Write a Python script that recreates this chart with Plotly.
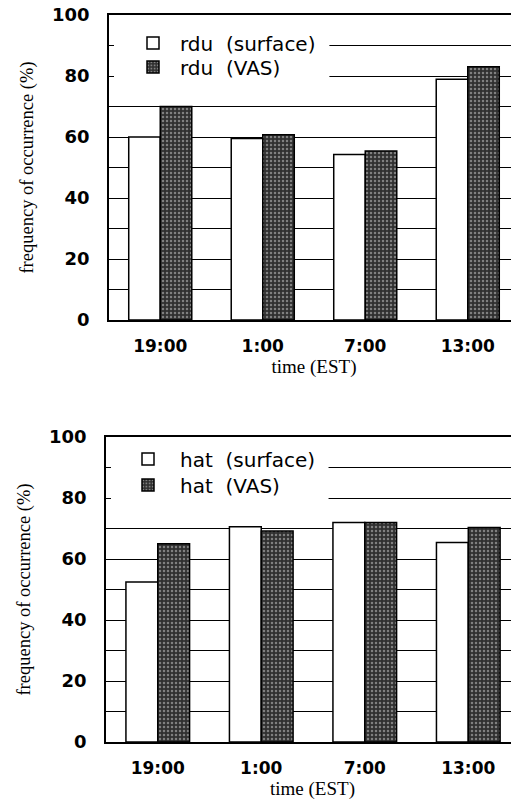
import plotly.graph_objects as go
from plotly.subplots import make_subplots

times = ["19:00", "1:00", "7:00", "13:00"]
rdu_surface = [60, 59.5, 54.3, 78.9]
rdu_vas = [70, 60.7, 55.4, 83]
hat_surface = [52.5, 70.6, 72, 65.4]
hat_vas = [65, 69.2, 72, 70.3]
yticks = [0, 20, 40, 60, 80, 100]

NBSP = "\u00a0"

# the page has an 8px body margin; the figure fills the rest of the window
W, H = 511, 792
L = 92
PW = W - L

fig = make_subplots(rows=2, cols=1)

vas_marker = dict(color="#303030", line=dict(color="black", width=1.5),
                  pattern=dict(shape=".", fgcolor="#cfcfcf", bgcolor="#303030",
                               size=4, solidity=0.3))
surf_marker = dict(color="white", line=dict(color="black", width=1.5))

fig.add_trace(go.Bar(x=times, y=rdu_surface, name=f"rdu{NBSP}{NBSP}(surface)",
                     marker=surf_marker, legend="legend"), row=1, col=1)
fig.add_trace(go.Bar(x=times, y=rdu_vas, name=f"rdu{NBSP}{NBSP}(VAS)",
                     marker=vas_marker, legend="legend2"), row=1, col=1)
fig.add_trace(go.Bar(x=times, y=hat_surface, name=f"hat{NBSP}{NBSP}(surface)",
                     marker=surf_marker, legend="legend3"), row=2, col=1)
fig.add_trace(go.Bar(x=times, y=hat_vas, name=f"hat{NBSP}{NBSP}(VAS)",
                     marker=vas_marker, legend="legend4"), row=2, col=1)

ytick_font = dict(family="DejaVu Sans", size=18, color="black", weight="bold")
xtick_font = dict(family="DejaVu Sans", size=17, color="black", weight="bold")
ytitle_font = dict(family="Liberation Serif", size=18.5, color="black")
xtitle_font = dict(family="Liberation Serif", size=19, color="black")

common_x = dict(showline=True, linecolor="black", linewidth=1.5, automargin=False,
                mirror=True, ticks="", tickfont=xtick_font, ticklabelstandoff=10,
                showgrid=False, fixedrange=True)
common_y = dict(range=[0, 100], tickvals=yticks, showline=True, linecolor="black",
                linewidth=1.5, mirror=False, ticks="inside", ticklen=5, tickcolor="black",
                tickfont=ytick_font, ticklabelstandoff=14, ticklabeloverflow="allow",
                showgrid=True, automargin=False,
                gridcolor="black", gridwidth=1, zeroline=False, fixedrange=True,
                minor=dict(dtick=10, showgrid=True, gridcolor="black", gridwidth=1,
                           ticks="inside", ticklen=5, tickcolor="black"))

fig.update_xaxes(**common_x)
fig.update_yaxes(**common_y)

# plot boxes (figure px): top x 101..511, y 7..312 ; bottom x 98..511, y 429..734
fig.update_xaxes(domain=[(101 - L) / PW, 1.0], range=[-0.5, 3.5], row=1, col=1,
                 title=dict(text="time (EST)", font=xtitle_font, standoff=4))
fig.update_xaxes(domain=[(98 - L) / PW, 1.0], range=[-0.5, 3.49], row=2, col=1,
                 title=dict(text="time (EST)", font=xtitle_font, standoff=6))
fig.update_yaxes(domain=[1 - 312 / H, 1 - 7 / H], row=1, col=1,
                 title=dict(text="frequency of occurrence (%)", font=ytitle_font, standoff=14))
fig.update_yaxes(domain=[1 - 734 / H, 1 - 429 / H], row=2, col=1,
                 title=dict(text="frequency of occurrence (%)", font=ytitle_font, standoff=14))

# white area behind the legend that hides the upper grid lines
for xr, yr in (("x", "y"), ("x2", "y2")):
    fig.add_shape(type="rect", xref=xr, yref=yr, x0=-0.5, x1=1.65, y0=75, y1=99.6,
                  fillcolor="white", line=dict(width=0), layer="between")

legend_font = dict(family="DejaVu Sans", size=20, color="black")


def leg(cx, cy, itemw):
    sym = (itemw + 10) / 2
    return dict(x=(cx - sym - L) / PW, y=1 - cy / H, xanchor="left", yanchor="middle",
                bgcolor="rgba(0,0,0,0)", font=legend_font, itemwidth=itemw)


fig.update_layout(
    width=W, height=H,
    margin=dict(l=L, r=0, t=0, b=0),
    paper_bgcolor="white", plot_bgcolor="white",
    barmode="group", bargap=0.385, bargroupgap=0,
    showlegend=True,
    legend=leg(145, 35, 44),
    legend2=leg(145, 59, 44),
    legend3=leg(140, 451, 54),
    legend4=leg(140, 477, 54),
)

fig.write_html("out.html")
